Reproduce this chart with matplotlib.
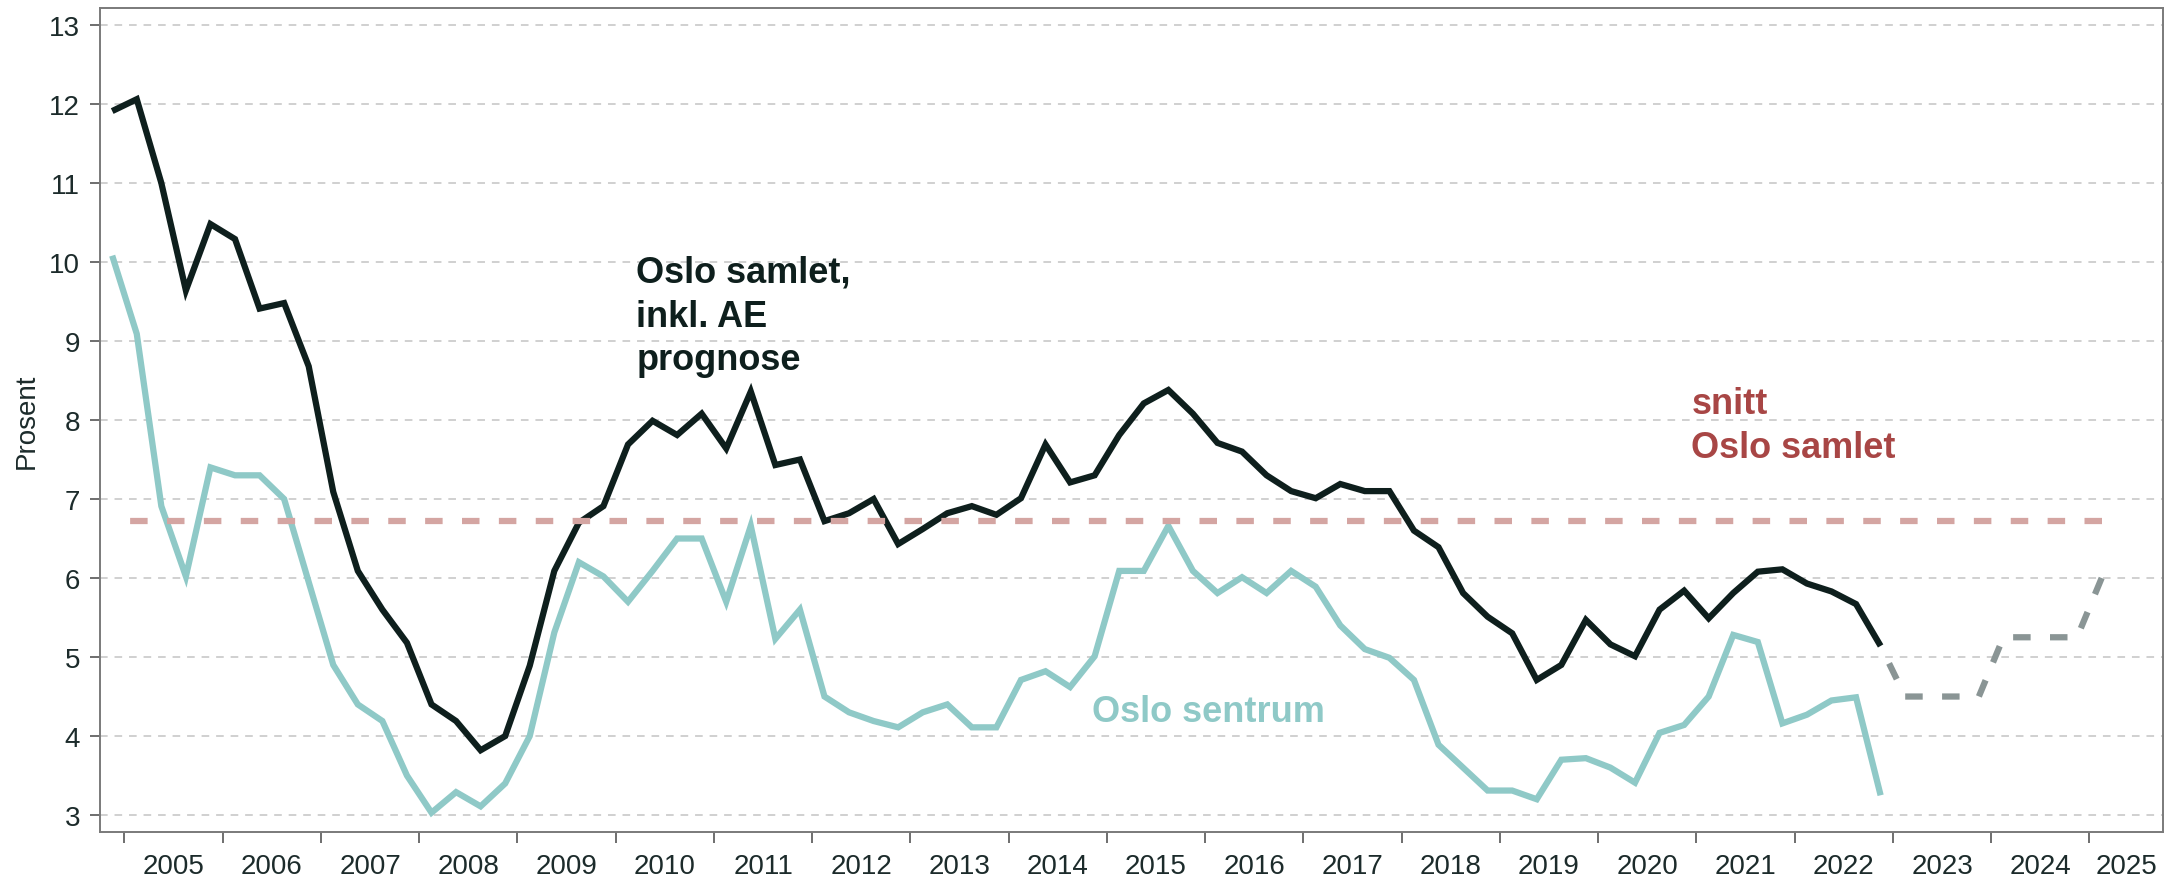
import matplotlib
matplotlib.use("Agg")
import matplotlib.pyplot as plt
import numpy as np
import pandas as pd

# ---- data -------------------------------------------------------------
quarters = pd.period_range("2004Q4", "2022Q4", freq="Q")
oslo_samlet = [11.91,
               12.06, 11.0, 9.64, 10.48,
               10.29, 9.41, 9.48, 8.68,
               7.09, 6.09, 5.60, 5.18,
               4.40, 4.19, 3.82, 4.0,
               4.89, 6.09, 6.70, 6.91,
               7.69, 7.99, 7.81, 8.08,
               7.64, 8.36, 7.43, 7.50,
               6.72, 6.82, 7.0, 6.43,
               6.62, 6.82, 6.91, 6.80,
               7.01, 7.69, 7.21, 7.30,
               7.81, 8.21, 8.38, 8.08,
               7.71, 7.60, 7.30, 7.10,
               7.01, 7.19, 7.10, 7.10,
               6.60, 6.39, 5.81, 5.51,
               5.30, 4.71, 4.90, 5.47,
               5.16, 5.01, 5.60, 5.84,
               5.49, 5.81, 6.08, 6.11,
               5.93, 5.83, 5.67, 5.14]
oslo_sentrum = [10.08,
                9.09, 6.91, 6.02, 7.40,
                7.30, 7.30, 7.0, 5.95,
                4.90, 4.40, 4.19, 3.50,
                3.03, 3.29, 3.11, 3.40,
                4.0, 5.31, 6.20, 6.02,
                5.70, 6.09, 6.50, 6.50,
                5.70, 6.66, 5.23, 5.60,
                4.50, 4.30, 4.19, 4.11,
                4.30, 4.40, 4.11, 4.11,
                4.71, 4.82, 4.62, 5.01,
                6.09, 6.09, 6.66, 6.09,
                5.81, 6.01, 5.81, 6.09,
                5.89, 5.40, 5.10, 4.99,
                4.71, 3.89, 3.60, 3.31,
                3.31, 3.20, 3.70, 3.72,
                3.60, 3.41, 4.04, 4.14,
                4.50, 5.28, 5.19, 4.16,
                4.27, 4.45, 4.49, 3.25]
forecast_quarters = pd.period_range("2022Q4", "2025Q1", freq="Q")
prognose = [5.14, 4.5, 4.5, 4.5, 4.5, 5.25, 5.25, 5.25, 5.25, 6.0]
snitt_oslo_samlet = 6.72
year_labels = [str(y) for y in range(2005, 2026)]


def to_x(periods):
    return np.array([p.year + (p.quarter - 0.5) / 4 for p in periods])


x_hist = to_x(quarters)
x_fc = to_x(forecast_quarters)

# ---- styling ------------------------------------------------------------
plt.rcParams['font.family'] = ['Liberation Sans', 'DejaVu Sans']
DARK = '#0e1f1d'
TEAL = '#8fc9c7'
RED_LINE = '#d4a5a2'
RED_TXT = '#a84645'
GREY_FC = '#8a9595'
TXT = '#1c2b2b'

fig = plt.figure(figsize=(21.77, 8.79), dpi=100)
ax = fig.add_axes([0.0459, 0.0523, 0.9477, 0.9375])

ax.yaxis.grid(True, color='#c4c4c4', linestyle=(0, (5, 4.5)), linewidth=1.1, zorder=0)
ax.set_axisbelow(True)

LW = 4.5
DASH = (0, (2.8, 3.1))
ax.plot(x_hist, oslo_sentrum, color=TEAL, lw=LW, solid_capstyle='butt',
        solid_joinstyle='miter', zorder=3)
ax.plot(x_hist, oslo_samlet, color=DARK, lw=LW, solid_capstyle='butt',
        solid_joinstyle='miter', zorder=4)
# drawn from the end backwards so the dash pattern ends cleanly at the last point
ax.plot(x_fc[::-1], prognose[::-1], color=GREY_FC, lw=LW, linestyle=DASH,
        dash_capstyle='butt', zorder=4)
ax.plot([x_fc[-1], x_hist[0]], [snitt_oslo_samlet] * 2, color=RED_LINE, lw=LW,
        linestyle=DASH, dash_capstyle='butt', zorder=5)

ax.set_xlim(2004.75, 2025.75)
ax.set_ylim(2.785, 13.215)

ax.set_yticks(range(3, 14))
ax.tick_params(axis='y', length=7.2, width=1.2, color='#555555', pad=7,
               labelsize=20, labelcolor=TXT)

# x: year boundaries as major ticks, labels at year centres as minor ticks
ax.set_xticks(range(2005, 2026))
ax.set_xticklabels([])
label_pos = [y + 0.5 for y in range(2005, 2025)] + [(2025 + 2025.75) / 2]
ax.set_xticks(label_pos, minor=True)
ax.set_xticklabels(year_labels, minor=True)
ax.tick_params(axis='x', which='major', length=8, width=1.2, color='#555555')
ax.tick_params(axis='x', which='minor', length=0, pad=15, labelsize=20, labelcolor=TXT)

for s in ax.spines.values():
    s.set_color('#7a7a7a')
    s.set_linewidth(1.4)

ax.set_ylabel('Prosent', fontsize=20, color=TXT, labelpad=7)

ax.text(2010.21, 10.09, 'Oslo samlet,\ninkl. AE\nprognose', fontsize=26,
        fontweight='bold', color=DARK, ha='left', va='top', linespacing=1.32, zorder=6)
ax.text(2020.95, 8.43, 'snitt\nOslo samlet', fontsize=26, fontweight='bold',
        color=RED_TXT, ha='left', va='top', linespacing=1.32, zorder=6)
ax.text(2014.85, 4.19, 'Oslo sentrum', fontsize=26, fontweight='bold',
        color=TEAL, ha='left', va='baseline', zorder=6)

fig.savefig('out.png', dpi=100, facecolor='white')
